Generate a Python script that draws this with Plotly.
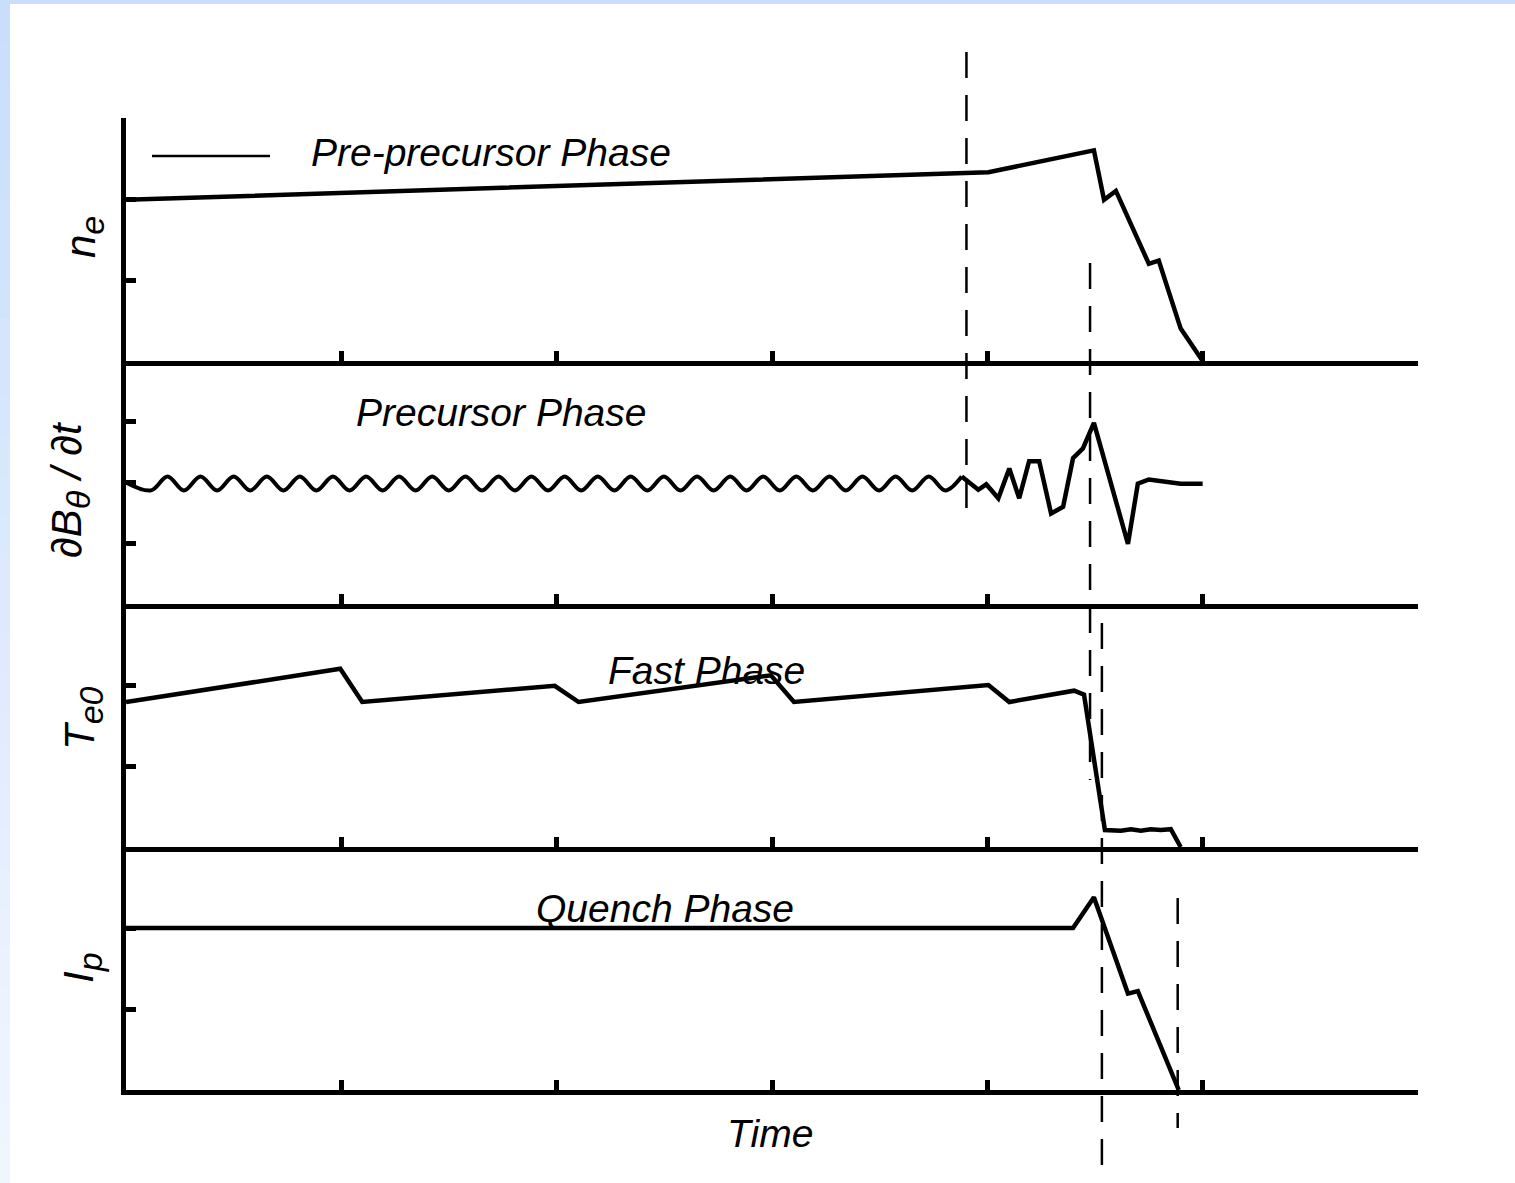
import plotly.graph_objects as go
from plotly.subplots import make_subplots

W, H = 1515, 1183
L, R, T, B = 126, 1418, 118, 1090  # plot-area edges in page pixels

# ---- signals (time in axis units, 0..6) ----
# electron density
ne_t = [0.0, 4.005, 4.495, 4.542, 4.597, 4.750, 4.796, 4.898, 5.0]
ne_v = [1.99, 2.33, 2.60, 1.99, 2.10, 1.20, 1.24, 0.40, 0.0]

# poloidal field fluctuation: steady small oscillation
osc_t = [0.0, 0.116, 0.193, 0.269, 0.346, 0.423, 0.500, 0.577, 0.654, 0.731,
         0.807, 0.884, 0.961, 1.038, 1.115, 1.192, 1.268, 1.345, 1.422, 1.499,
         1.576, 1.653, 1.730, 1.806, 1.883, 1.960, 2.037, 2.114, 2.191, 2.268,
         2.344, 2.421, 2.498, 2.575, 2.652, 2.729, 2.806, 2.882, 2.959, 3.036,
         3.113, 3.190, 3.267, 3.343, 3.420, 3.497, 3.574, 3.651, 3.728, 3.805,
         3.881]
osc_v = [0.0, -0.13, 0.10, -0.13, 0.10, -0.13, 0.10, -0.13, 0.10, -0.13,
         0.10, -0.13, 0.10, -0.13, 0.10, -0.13, 0.10, -0.13, 0.10, -0.13,
         0.10, -0.13, 0.10, -0.13, 0.10, -0.13, 0.10, -0.13, 0.10, -0.13,
         0.10, -0.13, 0.10, -0.13, 0.10, -0.13, 0.10, -0.13, 0.10, -0.13,
         0.10, -0.13, 0.10, -0.13, 0.10, -0.13, 0.10, -0.13, 0.10, -0.13,
         0.10]
# precursor burst
burst_t = [3.881, 3.958, 3.995, 4.051, 4.102, 4.148, 4.194, 4.241, 4.296,
           4.352, 4.398, 4.444, 4.495, 4.653, 4.699, 4.750, 4.898, 5.0]
burst_v = [0.10, -0.12, -0.03, -0.26, 0.23, -0.26, 0.35, 0.35, -0.51,
           -0.40, 0.40, 0.56, 0.98, -1.01, -0.02, 0.05, -0.02, -0.02]

# central electron temperature (sawteeth, then thermal quench)
te_t = [0.0, 0.995, 1.097, 1.991, 2.102, 2.995, 3.102, 4.005, 4.102, 4.403,
        4.449, 4.546, 4.620, 4.667, 4.713, 4.759, 4.806, 4.852, 4.898]
te_v = [1.79, 2.20, 1.79, 1.99, 1.79, 2.12, 1.79, 2.00, 1.79, 1.93,
        1.88, 0.21, 0.20, 0.22, 0.20, 0.22, 0.21, 0.22, 0.0]

# plasma current
ip_t = [0.0, 4.398, 4.495, 4.653, 4.699, 4.889]
ip_v = [2.0, 2.0, 2.38, 1.19, 1.22, 0.0]

# phase boundaries: time and vertical extent (page pixels)
event_t = [3.903, 4.477, 4.532, 4.884]
event_top = [52, 263, 623, 898]
event_bottom = [512, 780, 1168, 1128]

phase_labels = ["Pre-precursor Phase", "Precursor Phase", "Fast Phase", "Quench Phase"]
phase_pos = [(491, 153), (501, 412), (706, 670), (665, 908)]

SUB = "<sub><span style='font-size:34px'>%s</span></sub>"
ylabels = ["<i>n%s</i>" % (SUB % "e"),
           "<i>\u2202B%s / \u2202t</i>" % (SUB % "\u03b8"),
           "<i>T%s</i>" % (SUB % "e0"),
           "<i>I%s</i>" % (SUB % "p")]
ylabel_pos = [(84, 237), (70, 490), (83, 718), (82, 968)]

FONT = "Liberation Sans, Arial, sans-serif"
LW = 4.5


def px_x(p):
    return (p - L) / (R - L)


def px_y(p):
    return (B - p) / (B - T)


fig = make_subplots(rows=4, cols=1, shared_xaxes=True, vertical_spacing=0)

line = dict(color="black", width=LW)
fig.add_trace(go.Scatter(x=ne_t, y=ne_v, mode="lines", line=line), row=1, col=1)
fig.add_trace(go.Scatter(x=osc_t, y=osc_v, mode="lines",
                         line=dict(color="black", width=LW - 0.5, shape="spline", smoothing=1)),
              row=2, col=1)
fig.add_trace(go.Scatter(x=burst_t, y=burst_v, mode="lines", line=line), row=2, col=1)
fig.add_trace(go.Scatter(x=te_t, y=te_v, mode="lines", line=line), row=3, col=1)
fig.add_trace(go.Scatter(x=ip_t, y=ip_v, mode="lines", line=line), row=4, col=1)

axis_common = dict(showline=True, linecolor="black", linewidth=5, mirror=False,
                   ticks="inside", tickcolor="black", tickwidth=5, ticklen=10,
                   showgrid=False, zeroline=False, showticklabels=False)
fig.update_xaxes(range=[0, 6], tickvals=[0, 1, 2, 3, 4, 5, 6], **axis_common)
fig.update_yaxes(range=[0, 3], tickvals=[1, 2, 3], row=1, col=1, **axis_common)
fig.update_yaxes(range=[-2, 2], tickvals=[-1, 0, 1], row=2, col=1, **axis_common)
fig.update_yaxes(range=[0, 3], tickvals=[1, 2], row=3, col=1, **axis_common)
fig.update_yaxes(range=[0, 3], tickvals=[1, 2], row=4, col=1, **axis_common)

shapes = []
# page frame: blue band on top, fading blue band on the left
shapes.append(dict(type="rect", xref="paper", yref="paper", layer="below",
                   x0=px_x(0), x1=px_x(W), y0=px_y(0), y1=px_y(4),
                   fillcolor="#c9defb", line=dict(width=0)))
n_band = 30
c0, c1 = (201, 222, 251), (240, 246, 254)
for i in range(n_band):
    f = i / (n_band - 1)
    col = tuple(round(a + (b - a) * f) for a, b in zip(c0, c1))
    ya = 4 + (H - 4) * i / n_band
    yb = 4 + (H - 4) * (i + 1) / n_band
    shapes.append(dict(type="rect", xref="paper", yref="paper", layer="below",
                       x0=px_x(0), x1=px_x(10), y0=px_y(ya), y1=px_y(yb + 1),
                       fillcolor="rgb(%d,%d,%d)" % col, line=dict(width=0)))

# legend stroke beside the first phase name
shapes.append(dict(type="line", xref="paper", yref="paper",
                   x0=px_x(152), x1=px_x(270), y0=px_y(156), y1=px_y(156),
                   line=dict(color="black", width=2.5)))

for t, y0, y1 in zip(event_t, event_top, event_bottom):
    shapes.append(dict(type="line", xref="x4", yref="paper",
                       x0=t, x1=t, y0=px_y(y0), y1=px_y(y1),
                       line=dict(color="black", width=2.5, dash="26px,17px")))

annotations = []
for txt, (x, y) in zip(phase_labels, phase_pos):
    annotations.append(dict(text="<i>%s</i>" % txt, xref="paper", yref="paper",
                            x=px_x(x), y=px_y(y), xanchor="center", yanchor="middle",
                            showarrow=False, font=dict(family=FONT, size=39, color="black")))
annotations.append(dict(text="<i>Time</i>", xref="paper", yref="paper",
                        x=px_x(770), y=px_y(1133), xanchor="center", yanchor="middle",
                        showarrow=False, font=dict(family=FONT, size=39, color="black")))
for txt, (x, y) in zip(ylabels, ylabel_pos):
    annotations.append(dict(text=txt, xref="paper", yref="paper", textangle=-90,
                            x=px_x(x), y=px_y(y), xanchor="center", yanchor="middle",
                            showarrow=False, font=dict(family=FONT, size=42, color="black")))

fig.update_layout(width=W, height=H, margin=dict(l=L, r=W - R, t=T, b=H - B),
                  paper_bgcolor="white", plot_bgcolor="white", showlegend=False,
                  shapes=shapes, annotations=annotations)

fig.write_html("out.html")
